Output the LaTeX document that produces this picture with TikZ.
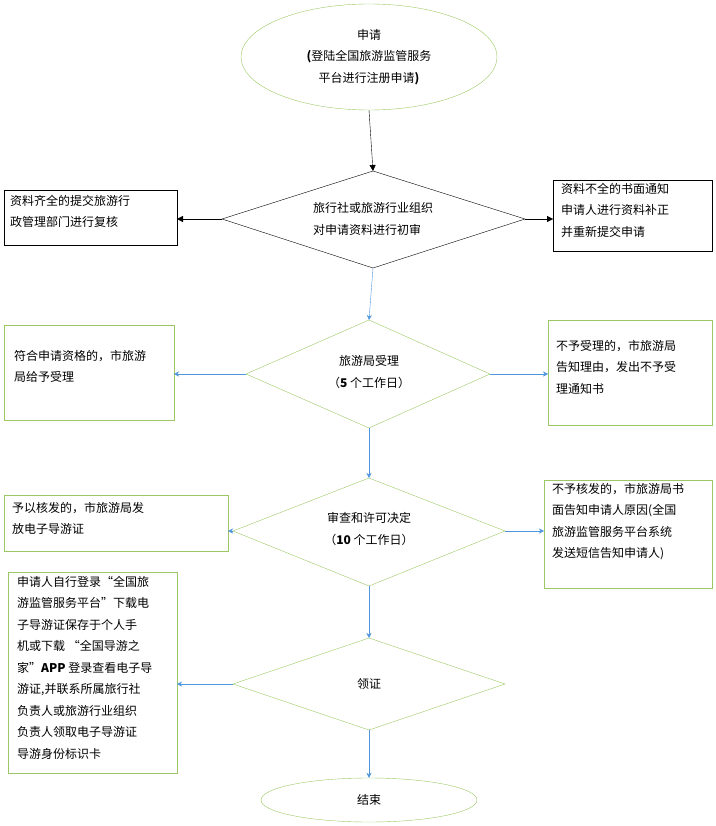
\documentclass[tikz,border=0pt]{standalone}
\usepackage{fontspec}
\setmainfont{Noto Sans CJK SC}
\usetikzlibrary{arrows.meta,shapes.geometric}
\definecolor{lgreen}{RGB}{155,200,100}
\definecolor{lblue}{RGB}{80,150,220}
\begin{document}
\begin{tikzpicture}[x=1pt,y=-1pt
        , every node/.style={font=\fontsize{12}{21.5}\selectfont, inner sep=0pt}
        , txt/.style={align=left, anchor=north west}
        , barrow/.style={-{Triangle[length=6pt,width=6pt]}, black}
        , larrow/.style={-{Stealth[length=5pt,width=5pt]}, lblue}
    ]
    \useasboundingbox (0,0) rectangle (715,826);

    % start
    \node[draw=lgreen, ellipse, minimum width=256pt, minimum height=106pt, align=center] (start) at (369,57)
        {申请\\\textbf{(}登陆全国旅游监管服务\\平台进行注册申请\textbf{)}};

    % check one
    \coordinate (d1t) at (373,171); \coordinate (d1b) at (373,268);
    \coordinate (d1l) at (222,219); \coordinate (d1r) at (525,219);
    \draw (d1t) -- (d1r) -- (d1b) -- (d1l) -- cycle;
    \node[align=left] (d1) at (373,219) {旅行社或旅游行业组织\\对申请资料进行初审};
    \draw (4,190) rectangle (177,245);
    \node[txt] (l1) at (10,195) {资料齐全的提交旅游行\\政管理部门进行复核};
    \draw (553,180) rectangle (712,251);
    \node[txt] (r1) at (561,183) {资料不全的书面通知\\申请人进行资料补正\\并重新提交申请};
    \coordinate (l1e) at (177,219); \coordinate (r1e) at (553,219);

    % check two
    \coordinate (d2t) at (369,320); \coordinate (d2b) at (369,428);
    \coordinate (d2l) at (246,374); \coordinate (d2r) at (490,374);
    \draw[lgreen] (d2t) -- (d2r) -- (d2b) -- (d2l) -- cycle;
    \node[align=center] (d2) at (369,372) {旅游局受理\\（\textbf{5} 个工作日）};
    \draw[lgreen] (4,325) rectangle (174,420);
    \node[txt] (l2) at (14,350) {符合申请资格的，市旅游\\局给予受理};
    \draw[lgreen] (548,320) rectangle (712,425);
    \node[txt] (r2) at (556,340) {不予受理的，市旅游局\\告知理由，发出不予受\\理通知书};
    \coordinate (l2e) at (174,374); \coordinate (r2e) at (548,374);

    % check three
    \coordinate (d3t) at (369,478); \coordinate (d3b) at (369,586);
    \coordinate (d3l) at (233,531); \coordinate (d3r) at (505,531);
    \draw[lgreen] (d3t) -- (d3r) -- (d3b) -- (d3l) -- cycle;
    \node[align=center] (d3) at (369,529) {审查和许可决定\\（\textbf{10} 个工作日）};
    \draw[lgreen] (4,495) rectangle (228,551);
    \node[txt] (l3) at (12,502) {予以核发的，市旅游局发\\放电子导游证};
    \draw[lgreen] (544,480) rectangle (712,588);
    \node[txt] (r3) at (552,483) {不予核发的，市旅游局书\\面告知申请人原因(全国\\旅游监管服务平台系统\\发送短信告知申请人)};
    \coordinate (l3e) at (228,531); \coordinate (r3e) at (544,531);

    % check four
    \coordinate (d4t) at (369,638); \coordinate (d4b) at (369,730);
    \coordinate (d4l) at (233,684); \coordinate (d4r) at (505,684);
    \draw[lgreen] (d4t) -- (d4r) -- (d4b) -- (d4l) -- cycle;
    \node (d4) at (369,684) {领证};
    \draw[lgreen] (8,572) rectangle (177,773);
    \node[txt] (l4) at (17,576) {申请人自行登录“全国旅\\游监管服务平台”下载电\\子导游证保存于个人手\\机或下载 “全国导游之\\家”\textbf{APP} 登录查看电子导\\游证,并联系所属旅行社\\负责人或旅游行业组织\\负责人领取电子导游证\\导游身份标识卡};
    \coordinate (l4e) at (177,684);

    % end
    \node[draw=lgreen, ellipse, minimum width=216pt, minimum height=44pt] (stop) at (369,800) {结束};

    % connectors
    \draw[barrow] (start.south) -- (d1t);
    \draw[barrow] (d1l) -- (l1e);
    \draw[barrow] (d1r) -- (r1e);
    \draw[larrow] (d1b) -- (d2t);
    \draw[larrow] (d2l) -- (l2e);
    \draw[larrow] (d2r) -- (r2e);
    \draw[larrow] (d2b) -- (d3t);
    \draw[larrow] (d3l) -- (l3e);
    \draw[larrow] (d3r) -- (r3e);
    \draw[larrow] (d3b) -- (d4t);
    \draw[larrow] (d4l) -- (l4e);
    \draw[larrow] (d4b) -- (stop.north);
\end{tikzpicture}
\end{document}
